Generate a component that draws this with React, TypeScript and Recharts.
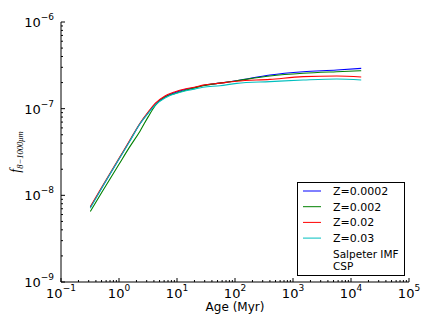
import React from "react";
import { LineChart, Line, XAxis, YAxis, Legend } from "recharts";

// age in Myr, shared by every series
const ages = [0.32, 0.5, 1, 1.5, 2.3, 3.2, 4.2, 6.2, 9.3, 13.7, 20, 28, 55, 107, 400, 1500, 5700, 15000];

const fZ0002 = [7.3e-9, 1.21e-8, 2.63e-8, 4.15e-8, 6.7e-8, 9.0e-8, 1.12e-7, 1.37e-7, 1.54e-7, 1.66e-7, 1.75e-7, 1.85e-7, 1.97e-7, 2.1e-7, 2.45e-7, 2.67e-7, 2.79e-7, 2.92e-7];
const fZ002 = [6.5e-9, 1.07e-8, 2.28e-8, 3.55e-8, 5.5e-8, 8.1e-8, 1.08e-7, 1.36e-7, 1.5e-7, 1.62e-7, 1.73e-7, 1.84e-7, 1.97e-7, 2.1e-7, 2.38e-7, 2.56e-7, 2.67e-7, 2.74e-7];
const fZ02 = [7.4e-9, 1.23e-8, 2.67e-8, 4.2e-8, 6.8e-8, 9.2e-8, 1.15e-7, 1.4e-7, 1.57e-7, 1.69e-7, 1.77e-7, 1.87e-7, 1.97e-7, 2.07e-7, 2.18e-7, 2.34e-7, 2.38e-7, 2.32e-7];
const fZ03 = [7.1e-9, 1.2e-8, 2.62e-8, 4.1e-8, 6.7e-8, 8.9e-8, 1.1e-7, 1.33e-7, 1.49e-7, 1.6e-7, 1.68e-7, 1.77e-7, 1.84e-7, 1.96e-7, 2.05e-7, 2.14e-7, 2.2e-7, 2.14e-7];

const seriesKeys = ["z0002", "z002", "z02", "z03"];
const seriesNames = ["Z=0.0002", "Z=0.002", "Z=0.02", "Z=0.03"];
const seriesColors = ["#0000ff", "#008000", "#ff0000", "#00bfbf"];
const seriesValues = [fZ0002, fZ002, fZ02, fZ03];

const xMajorTicks = [0.1, 1, 10, 100, 1000, 10000, 100000];
const yMajorTicks = [1e-9, 1e-8, 1e-7, 1e-6];
const minorSteps = [2, 3, 4, 5, 6, 7, 8, 9];

const noteLines = ["Salpeter IMF", "CSP"];

const withMinors = (majors: number[]) =>
  majors.flatMap((m, i) => (i < majors.length - 1 ? [m, ...minorSteps.map((s) => m * s)] : [m]));

const xTicks = withMinors(xMajorTicks);
const yTicks = withMinors(yMajorTicks);

const data = ages.map((age, i) => {
  const row: Record<string, number> = { age };
  seriesKeys.forEach((k, j) => {
    row[k] = seriesValues[j][i];
  });
  return row;
});

const FONT = "'DejaVu Sans', sans-serif";

const isMajor = (v: number) => Math.abs(Math.log10(v) - Math.round(Math.log10(v))) < 1e-6;
const expOf = (v: number) => {
  const e = Math.round(Math.log10(v));
  return e < 0 ? `\u2212${-e}` : `${e}`;
};

const PowerLabel = ({ x, y, v, anchor }: any) => (
  <text x={x} y={y} textAnchor={anchor} fontFamily={FONT} fontSize={13} fill="#000">
    <tspan>10</tspan>
    <tspan dy={-7} fontSize={9}>
      {expOf(v)}
    </tspan>
  </text>
);

const BottomTick = ({ x, y, payload }: any) => {
  const major = isMajor(payload.value);
  return (
    <g>
      <line x1={x} x2={x} y1={y} y2={y - (major ? 4 : 2)} stroke="#000" />
      {major && <PowerLabel x={x} y={y + 16} v={payload.value} anchor="middle" />}
    </g>
  );
};

const TopTick = ({ x, y, payload }: any) => (
  <line x1={x} x2={x} y1={y} y2={y + (isMajor(payload.value) ? 4 : 2)} stroke="#000" />
);

const LeftTick = ({ x, y, payload }: any) => {
  const major = isMajor(payload.value);
  return (
    <g>
      <line x1={x} x2={x + (major ? 4 : 2)} y1={y} y2={y} stroke="#000" />
      {major && <PowerLabel x={x - 7} y={y + 5} v={payload.value} anchor="end" />}
    </g>
  );
};

const RightTick = ({ x, y, payload }: any) => (
  <line x1={x} x2={x - (isMajor(payload.value) ? 4 : 2)} y1={y} y2={y} stroke="#000" />
);

const YTitle = ({ viewBox }: any) => (
  <text
    transform={`translate(${viewBox.x + 20},${viewBox.y + viewBox.height / 2}) rotate(-90)`}
    textAnchor="middle"
    fontFamily="'Liberation Serif', serif"
    fontStyle="italic"
    fill="#000"
  >
    <tspan fontSize={14}>f</tspan>
    <tspan fontSize={8.5} dy={3}>
      8{"\u2212"}1000μm
    </tspan>
  </text>
);

const XTitle = ({ viewBox }: any) => (
  <text
    x={viewBox.x + viewBox.width / 2}
    y={viewBox.y + 29}
    textAnchor="middle"
    fontFamily={FONT}
    fontSize={12}
    fill="#000"
  >
    Age (Myr)
  </text>
);

const LegendBox = ({ payload }: any) => (
  <svg width={108} height={94} style={{ display: "block" }}>
    <rect x={0.5} y={0.5} width={107} height={93} fill="#fff" stroke="#000" />
    {(payload || []).map((p: any, i: number) => (
      <g key={p.value}>
        <line x1={6} x2={24} y1={9 + 15.7 * i} y2={9 + 15.7 * i} stroke={p.color} />
        <text x={36} y={13 + 15.7 * i} fontFamily={FONT} fontSize={11} fill="#000">
          {p.value}
        </text>
      </g>
    ))}
    {noteLines.map((t, i) => (
      <text key={t} x={36} y={76 + 11.5 * i} fontFamily={FONT} fontSize={10.5} fill="#000">
        {t}
      </text>
    ))}
  </svg>
);

export default function App() {
  return (
    <div style={{ position: "absolute", left: 0, top: 0, width: 436, height: 325, background: "#fff" }}>
      <LineChart width={436} height={325} data={data} margin={{ top: 22, right: 27, bottom: 0, left: 0 }}>
        <XAxis
          xAxisId="b"
          dataKey="age"
          type="number"
          scale="log"
          domain={[0.1, 100000]}
          allowDataOverflow
          ticks={xTicks}
          interval={0}
          height={43}
          tickSize={0}
          tickMargin={0}
          tickLine={false}
          tick={<BottomTick />}
          axisLine={{ stroke: "#000" }}
          label={<XTitle />}
        />
        <XAxis
          xAxisId="t"
          orientation="top"
          dataKey="age"
          type="number"
          scale="log"
          domain={[0.1, 100000]}
          allowDataOverflow
          ticks={xTicks}
          interval={0}
          height={0}
          tickSize={0}
          tickMargin={0}
          tickLine={false}
          tick={<TopTick />}
          axisLine={{ stroke: "#000" }}
        />
        <YAxis
          yAxisId="l"
          type="number"
          scale="log"
          domain={[1e-9, 1e-6]}
          allowDataOverflow
          ticks={yTicks}
          interval={0}
          width={61}
          tickSize={0}
          tickMargin={0}
          tickLine={false}
          tick={<LeftTick />}
          axisLine={{ stroke: "#000" }}
          label={<YTitle />}
        />
        <YAxis
          yAxisId="r"
          orientation="right"
          type="number"
          scale="log"
          domain={[1e-9, 1e-6]}
          allowDataOverflow
          ticks={yTicks}
          interval={0}
          width={0}
          tickSize={0}
          tickMargin={0}
          tickLine={false}
          tick={<RightTick />}
          axisLine={{ stroke: "#000" }}
        />
        {seriesKeys.map((k, i) => (
          <Line
            key={k}
            xAxisId="b"
            yAxisId="l"
            type="monotone"
            dataKey={k}
            name={seriesNames[i]}
            stroke={seriesColors[i]}
            strokeWidth={1.1}
            dot={false}
            isAnimationActive={false}
          />
        ))}
        <Legend
          layout="horizontal"
          verticalAlign="middle"
          align="center"
          content={<LegendBox />}
          wrapperStyle={{ left: 297, top: 182, width: 108, height: 94 }}
        />
      </LineChart>
    </div>
  );
}
